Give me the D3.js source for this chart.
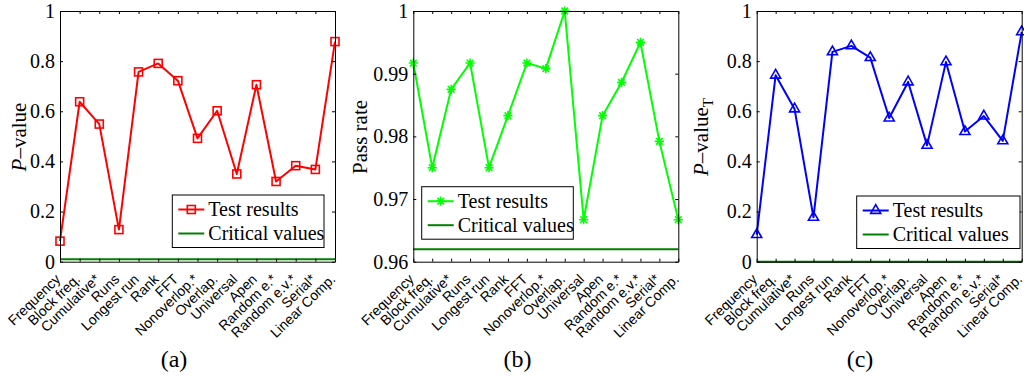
<!DOCTYPE html>
<html>
<head>
<meta charset="utf-8">
<script src="https://cdn.jsdelivr.net/npm/d3@7"></script>
<style>
  body { margin: 0; background: #fff; }
  svg { display: block; }
</style>
</head>
<body>
<div id="chart"></div>
<script>
// test names on the x axis (same for all three panels)
var categories = ["Frequency", "Block freq.", "Cumulative*", "Runs", "Longest run", "Rank", "FFT",
  "Nonoverlop.*", "Overlap.", "Universal", "Apen", "Random e.*", "Random e.v.*", "Serial*", "Linear Comp."];

// (a) P-value per test
var pValues = [0.082, 0.638, 0.549, 0.128, 0.757, 0.791, 0.722, 0.492, 0.602, 0.350, 0.706, 0.320, 0.383, 0.368, 0.878];
var pValueCritical = 0.01;
var pValueTicks = [0, 0.2, 0.4, 0.6, 0.8, 1];

// (b) pass rate per test
var passRates = [0.9917, 0.975, 0.9875, 0.9917, 0.975, 0.9833, 0.9917, 0.9908, 1.0, 0.9667, 0.9833, 0.9886, 0.995, 0.9792, 0.9667];
var passRateCritical = 0.962;
var passRateTicks = [0.96, 0.97, 0.98, 0.99, 1];

// (c) P-value_T per test
var pValuesT = [0.108, 0.744, 0.609, 0.177, 0.837, 0.861, 0.814, 0.573, 0.717, 0.464, 0.797, 0.519, 0.581, 0.482, 0.917];
var pValueTCritical = 0.0001;
var pValueTTicks = [0, 0.2, 0.4, 0.6, 0.8, 1];

var legendLabels = ["Test results", "Critical values"];

var W = 1024, H = 383;
var plotTop = 11, plotBottom = 261.7;
var serif = "'Liberation Serif', 'Times New Roman', serif";
var sans = "'Liberation Sans', Arial, Helvetica, sans-serif";

var svg = d3.select("#chart").append("svg")
  .attr("width", W)
  .attr("height", H);

// marker shapes, centred on 0,0
function drawMarker(g, type, color) {
  if (type == "square") {
    g.append("rect")
      .attr("x", -4).attr("y", -4)
      .attr("width", 8).attr("height", 8)
      .attr("fill", "none")
      .attr("stroke", color)
      .attr("stroke-width", 1.6);
  } else if (type == "star") {
    var r = 4.6, d = r * 0.72;
    g.append("path")
      .attr("d", "M" + (-r) + ",0L" + r + ",0M0," + (-r) + "L0," + r +
        "M" + (-d) + "," + (-d) + "L" + d + "," + d + "M" + (-d) + "," + d + "L" + d + "," + (-d))
      .attr("stroke", color)
      .attr("stroke-width", 1.6);
  } else {
    var t = 5.8;
    g.append("path")
      .attr("d", "M0," + (-t) + "L" + (-t * 0.866) + "," + (t / 2) + "L" + (t * 0.866) + "," + (t / 2) + "Z")
      .attr("fill", "none")
      .attr("stroke", color)
      .attr("stroke-width", 1.6);
  }
}

function drawPanel(p) {
  var x = d3.scalePoint().domain(categories).range([p.left, p.right]);
  var y = d3.scaleLinear().domain(p.domain).range([plotBottom, plotTop]);
  var g = svg.append("g");

  // critical value line
  g.append("line")
    .attr("x1", p.left).attr("x2", p.right)
    .attr("y1", y(p.critical)).attr("y2", y(p.critical))
    .attr("stroke", "#008000")
    .attr("stroke-width", 2);

  // test results line
  var line = d3.line()
    .x(function (d, i) { return x(categories[i]); })
    .y(function (d) { return y(d); });

  g.append("path")
    .datum(p.values)
    .attr("d", line)
    .attr("fill", "none")
    .attr("stroke", p.color)
    .attr("stroke-width", 2)
    .attr("stroke-linejoin", "round");

  p.values.forEach(function (v, i) {
    var m = g.append("g").attr("transform", "translate(" + x(categories[i]) + "," + y(v) + ")");
    drawMarker(m, p.marker, p.color);
  });

  // axes, ticks pointing inwards on all four sides
  var axes = [
    { ax: d3.axisBottom(x).tickFormat(""), t: "translate(0," + plotBottom + ")" },
    { ax: d3.axisTop(x).tickFormat(""), t: "translate(0," + plotTop + ")" },
    { ax: d3.axisLeft(y).tickValues(p.ticks).tickFormat(d3.format("")).tickPadding(5), t: "translate(" + p.left + ",0)" },
    { ax: d3.axisRight(y).tickValues(p.ticks).tickFormat(""), t: "translate(" + p.right + ",0)" }
  ];
  axes.forEach(function (a) {
    var ag = g.append("g")
      .attr("transform", a.t)
      .call(a.ax.tickSize(-3).tickSizeOuter(0));
    ag.selectAll("path, line").attr("stroke", "#000");
    ag.selectAll("text")
      .attr("font-family", serif)
      .attr("font-size", 20)
      .attr("fill", "#000");
  });

  // rotated test names
  g.selectAll(".xlab")
    .data(categories)
    .enter().append("text")
    .attr("class", "xlab")
    .attr("transform", function (d) { return "translate(" + (x(d) - 2) + "," + (plotBottom + 15) + ") rotate(-44)"; })
    .attr("text-anchor", "end")
    .attr("dy", "0.35em")
    .attr("font-family", sans)
    .attr("font-size", 14)
    .text(function (d) { return d; });

  // y label
  var yl = g.append("text")
    .attr("transform", "translate(" + p.ylabelX + ",137) rotate(-90)")
    .attr("text-anchor", "middle")
    .attr("font-family", serif)
    .attr("font-size", 21);
  if (p.ylabel == "Pass rate") {
    yl.text("Pass rate");
  } else {
    yl.append("tspan").attr("font-style", "italic").text("P");
    yl.append("tspan").text("\u2013value");
    if (p.sub) {
      yl.append("tspan").attr("font-size", 15).attr("dy", 5).text(p.sub);
    }
  }

  // legend
  var L = p.legend;
  var lg = g.append("g").attr("transform", "translate(" + L.x + "," + L.y + ")");
  lg.append("rect")
    .attr("width", L.w).attr("height", 52.5)
    .attr("fill", "#fff")
    .attr("stroke", "#000")
    .attr("stroke-width", 1);
  lg.append("line")
    .attr("x1", 6).attr("x2", 32).attr("y1", 14.5).attr("y2", 14.5)
    .attr("stroke", p.color).attr("stroke-width", 2);
  drawMarker(lg.append("g").attr("transform", "translate(19,14.5)"), p.marker, p.color);
  lg.append("line")
    .attr("x1", 6).attr("x2", 32).attr("y1", 38.5).attr("y2", 38.5)
    .attr("stroke", "#008000").attr("stroke-width", 2);
  lg.selectAll(".ltext")
    .data(legendLabels)
    .enter().append("text")
    .attr("class", "ltext")
    .attr("x", 36)
    .attr("y", function (d, i) { return 14.5 + i * 24; })
    .attr("dy", "0.33em")
    .attr("font-family", serif)
    .attr("font-size", 20)
    .text(function (d) { return d; });

  // panel caption
  g.append("text")
    .attr("x", p.captionX).attr("y", 367)
    .attr("text-anchor", "middle")
    .attr("font-family", serif)
    .attr("font-size", 24)
    .text(p.caption);
}

drawPanel({
  left: 60, right: 335, domain: [0, 1], ticks: pValueTicks,
  values: pValues, critical: pValueCritical, color: "#ff0000", marker: "square",
  ylabel: "P-value", ylabelX: 26, legend: { x: 172.3, y: 195, w: 151.7 },
  caption: "(a)", captionX: 174
});

drawPanel({
  left: 413.3, right: 678.3, domain: [0.96, 1], ticks: passRateTicks,
  values: passRates, critical: passRateCritical, color: "#00ff00", marker: "star",
  ylabel: "Pass rate", ylabelX: 367, legend: { x: 421.7, y: 186.7, w: 151.6 },
  caption: "(b)", captionX: 517.5
});

drawPanel({
  left: 756.7, right: 1021.7, domain: [0, 1], ticks: pValueTTicks,
  values: pValuesT, critical: pValueTCritical, color: "#0000ff", marker: "triangle",
  ylabel: "P-value", sub: "T", ylabelX: 708, legend: { x: 856.7, y: 196, w: 163.3 },
  caption: "(c)", captionX: 860
});
</script>
</body>
</html>
